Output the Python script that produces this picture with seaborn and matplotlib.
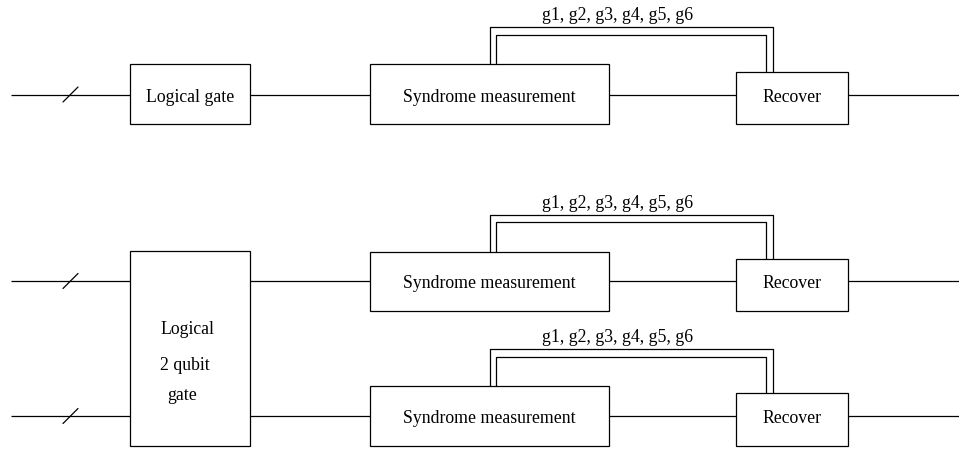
import matplotlib.pyplot as plt
import matplotlib.patches as mpatches
import seaborn as sb

# wire rows (pixel y of each qubit line)
wire_y = [94.5, 281, 416]
# syndrome / recover boxes for each row: (top, bottom)
syndrome_box = [(64, 124), (251.5, 311), (386, 445.5)]
recover_box = [(72, 124), (259, 311), (393, 445.5)]
# classical double line tops (outer, inner) and label y
classical_top = [(27, 34.5), (214.5, 221.5), (349, 356.5)]
classical_label_y = [16, 204, 337]
classical_label = 'g1, g2, g3, g4, g5, g6'
gate_labels = ['Logical gate', 'Logical', '2 qubit', 'gate']

sb.set_theme(style='white')
plt.rcParams['font.family'] = ['Liberation Serif', 'DejaVu Serif']
plt.rcParams['text.color'] = 'black'

fig = plt.figure(figsize=(9.59, 4.51), dpi=100)
ax = fig.add_axes([0, 0, 1, 1])
ax.set_xlim(0, 959)
ax.set_ylim(451, 0)
ax.axis('off')

lw = 0.9
col = 'black'
fs = 12.8
dy = 2.5  # text sits a little below the wire line


def box(x0, x1, y0, y1):
    ax.add_patch(mpatches.Rectangle((x0, y0), x1 - x0, y1 - y0, fill=False,
                                    edgecolor=col, linewidth=lw))


def hline(x0, x1, y):
    ax.plot([x0, x1], [y, y], color=col, lw=lw, solid_capstyle='butt')


for i, y in enumerate(wire_y):
    # input wire with slash
    hline(11, 130, y)
    hline(250, 370, y)
    ax.plot([63, 78], [y + 7.5, y - 7.5], color=col, lw=lw)

    st, sbot = syndrome_box[i]
    box(370, 609, st, sbot)
    ax.text(489.5, y + dy, 'Syndrome measurement', ha='center', va='center', fontsize=fs)

    rt, rb = recover_box[i]
    hline(609, 736, y)
    box(736, 848, rt, rb)
    ax.text(792, y + dy, 'Recover', ha='center', va='center', fontsize=fs)
    hline(848, 959, y)

    # classical double wire
    ot, it = classical_top[i]
    ax.plot([489.5, 489.5, 773, 773], [st, ot, ot, rt], color=col, lw=lw)
    ax.plot([496, 496, 766, 766], [st, it, it, rt], color=col, lw=lw)
    ax.text(617.5, classical_label_y[i], classical_label, ha='center', va='center', fontsize=fs)

# single-qubit logical gate
box(130, 250, 64, 124)
ax.text(190, 94.5 + dy, gate_labels[0], ha='center', va='center', fontsize=fs)

# two-qubit logical gate
box(130, 250, 251, 445.5)
ax.text(160.5, 329, gate_labels[1], ha='left', va='center', fontsize=fs)
ax.text(160.5, 366, gate_labels[2], ha='left', va='center', fontsize=fs)
ax.text(167.5, 396, gate_labels[3], ha='left', va='center', fontsize=fs)

plt.savefig('out.png', dpi=100)
